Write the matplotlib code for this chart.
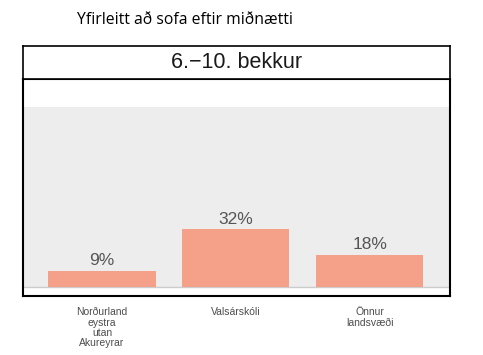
import matplotlib.pyplot as plt

categories = ["Norðurland\neystra\nutan\nAkureyrar", "Valsárskóli", "Önnur\nlandsvæði"]
values = [9, 32, 18]
title = "Yfirleitt að sofa eftir miðnætti"
strip_label = "6.\u221210. bekkur"

W, H = 483, 355
fig = plt.figure(figsize=(W / 100, H / 100), dpi=100)

def box(x0, y0, x1, y1):
    return [x0 / W, 1 - y1 / H, (x1 - x0) / W, (y1 - y0) / H]

ax = fig.add_axes(box(23, 79, 450, 296))
strip = fig.add_axes(box(23, 46, 450, 79))

x = list(range(len(categories)))
ax.axhspan(0, 100, color="#ededed", zorder=0, lw=0)
ax.axhline(0, color="#cccccc", lw=1, zorder=1)
bars = ax.bar(x, values, width=0.8, color="#f5a189", zorder=2)
for xi, v in zip(x, values):
    ax.text(xi, v + 1.5, f"{v}%", ha="center", va="bottom", fontsize=12.5,
            color="#555555", family="Liberation Sans")
ax.set_xlim(-0.59, 2.6)
ax.set_ylim(-5, 115.5)
ax.set_yticks([])
ax.set_xticks(x)
ax.set_xticklabels(categories, fontsize=7.5, color="#4d4d4d", family="Liberation Sans",
                   linespacing=1.05)
ax.tick_params(axis="x", length=0, pad=8)
for s in ax.spines.values():
    s.set_linewidth(1.5)
    s.set_color("black")

strip.set_xticks([])
strip.set_yticks([])
strip.text(0.5, 0.5, strip_label, ha="center", va="center", fontsize=15.5,
           family="Liberation Sans", color="#1a1a1a", transform=strip.transAxes)
for s in strip.spines.values():
    s.set_linewidth(1.2)
    s.set_color("black")

fig.text(77 / W, 1 - 20 / H, title, ha="left", va="center", fontsize=11.3,
         family="Open Sans", color="black")

fig.savefig("out.png", dpi=100)
